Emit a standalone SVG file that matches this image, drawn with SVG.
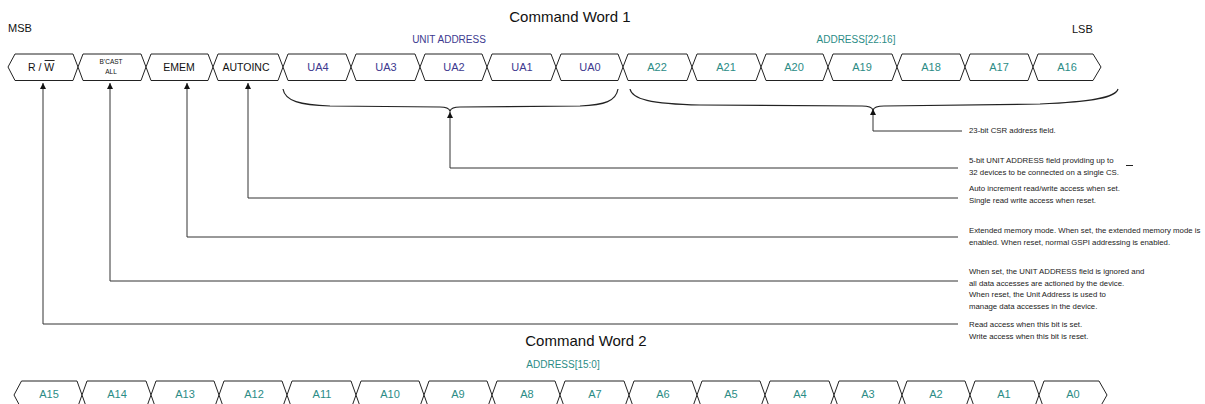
<svg xmlns="http://www.w3.org/2000/svg" width="1205" height="404" viewBox="0 0 1205 404">
<style>
text{font-family:"Liberation Sans",Arial,sans-serif;}
.hex{fill:#fff;stroke:#222;stroke-width:1;}
.t{font-size:15px;fill:#111;text-anchor:middle;}
.msb{font-size:11px;fill:#111;}
.lbl{font-size:10.5px;fill:#111;text-anchor:middle;}
.sm{font-size:6.5px;fill:#111;text-anchor:middle;}
.ua{font-size:11px;fill:#3d3a8f;text-anchor:middle;}
.ad{font-size:11px;fill:#2b8c86;text-anchor:middle;}
.uah{font-size:10px;fill:#3d3a8f;text-anchor:middle;}
.adh{font-size:10px;fill:#2b8c86;text-anchor:middle;}
.note{font-size:7.8px;fill:#222;}
.conn{fill:none;stroke:#333;stroke-width:1;}
.brace{fill:none;stroke:#222;stroke-width:1.2;}
</style>
<defs>
<marker id="arr" viewBox="0 0 10 10" refX="10" refY="5" markerWidth="9" markerHeight="6" markerUnits="userSpaceOnUse" orient="auto">
<path d="M0,0 L10,5 L0,10 z" fill="#111"/>
</marker>
</defs>

<text class="t" x="570" y="22">Command Word 1</text>
<text class="msb" x="8" y="32">MSB</text>
<text class="msb" x="1072" y="33">LSB</text>
<text class="uah" x="449" y="43">UNIT ADDRESS</text>
<text class="adh" x="856" y="43">ADDRESS[22:16]</text>

<g id="f-rw"><polygon class="hex" points="8,67 15,54 73,54 78,67 73,80.5 15,80.5"/><text class="lbl" x="41" y="71">R / W</text><line x1="44.6" y1="60.5" x2="54.6" y2="60.5" stroke="#111" stroke-width="0.9"/></g>
<g id="f-bcast"><polygon class="hex" points="78,67 83,54 141,54 146,67 141,80.5 83,80.5"/><text class="sm" x="111" y="63.5">B’CAST</text><text class="sm" x="111" y="74">ALL</text></g>
<g id="f-emem"><polygon class="hex" points="146,67 151,54 208,54 213,67 208,80.5 151,80.5"/><text class="lbl" x="179" y="71">EMEM</text></g>
<g id="f-autoinc"><polygon class="hex" points="213,67 218,54 278,54 283,67 278,80.5 218,80.5"/><text class="lbl" x="246" y="71">AUTOINC</text></g>
<g id="f-ua4"><polygon class="hex" points="283,67 288,54 346,54 351,67 346,80.5 288,80.5"/><text class="ua" x="318" y="71">UA4</text></g>
<g id="f-ua3"><polygon class="hex" points="351,67 356,54 415,54 420,67 415,80.5 356,80.5"/><text class="ua" x="386" y="71">UA3</text></g>
<g id="f-ua2"><polygon class="hex" points="420,67 425,54 482,54 487,67 482,80.5 425,80.5"/><text class="ua" x="454" y="71">UA2</text></g>
<g id="f-ua1"><polygon class="hex" points="487,67 492,54 551,54 556,67 551,80.5 492,80.5"/><text class="ua" x="522" y="71">UA1</text></g>
<g id="f-ua0"><polygon class="hex" points="556,67 561,54 618,54 623,67 618,80.5 561,80.5"/><text class="ua" x="590" y="71">UA0</text></g>
<g id="f-a22"><polygon class="hex" points="623,67 628,54 687,54 692,67 687,80.5 628,80.5"/><text class="ad" x="657" y="71">A22</text></g>
<g id="f-a21"><polygon class="hex" points="692,67 697,54 756,54 761,67 756,80.5 697,80.5"/><text class="ad" x="726" y="71">A21</text></g>
<g id="f-a20"><polygon class="hex" points="761,67 766,54 823,54 828,67 823,80.5 766,80.5"/><text class="ad" x="794" y="71">A20</text></g>
<g id="f-a19"><polygon class="hex" points="828,67 833,54 892,54 897,67 892,80.5 833,80.5"/><text class="ad" x="862" y="71">A19</text></g>
<g id="f-a18"><polygon class="hex" points="897,67 902,54 960,54 965,67 960,80.5 902,80.5"/><text class="ad" x="931" y="71">A18</text></g>
<g id="f-a17"><polygon class="hex" points="965,67 970,54 1028,54 1033,67 1028,80.5 970,80.5"/><text class="ad" x="999" y="71">A17</text></g>
<g id="f-a16"><polygon class="hex" points="1033,67 1038,54 1093,54 1101,67 1093,80.5 1038,80.5"/><text class="ad" x="1067" y="71">A16</text></g>

<g id="braces">
<path class="brace" d="M283,89 C285,101 300,105 330,106 L440,107 C446,107 449,108 450,111 C451,108 454,107 460,107 L580,106 C605,105 616,101 618,89"/>
<path class="brace" d="M630,89 C632,99 650,104 700,105 L862,106 C869,106 872,107 873,110 C874,107 877,106 884,106 L1040,104 C1095,102 1116,97 1118,89"/>
</g>

<g id="connectors">
<path class="conn" d="M962,131 H873 V109" marker-end="url(#arr)"/>
<path class="conn" d="M958,168 H450 V112" marker-end="url(#arr)"/>
<path class="conn" d="M958,198 H248 V83" marker-end="url(#arr)"/>
<path class="conn" d="M958,237 H187 V83" marker-end="url(#arr)"/>
<path class="conn" d="M958,281 H110 V83" marker-end="url(#arr)"/>
<path class="conn" d="M958,324 H43 V83" marker-end="url(#arr)"/>
</g>

<g id="notes">
<text class="note" x="969" y="133">23-bit CSR address field.</text>
<text class="note" x="969" y="163">5-bit UNIT ADDRESS field providing up to</text>
<text class="note" x="969" y="174.5">32 devices to be connected on a single CS.</text>
<line x1="1126" y1="165.5" x2="1133" y2="165.5" stroke="#222" stroke-width="1"/>
<text class="note" x="969" y="191">Auto increment read/write access when set.</text>
<text class="note" x="969" y="202.5">Single read write access when reset.</text>
<text class="note" x="969" y="233">Extended memory mode. When set, the extended memory mode is</text>
<text class="note" x="969" y="244.5">enabled. When reset, normal GSPI addressing is enabled.</text>
<text class="note" x="969" y="274">When set, the UNIT ADDRESS field is ignored and</text>
<text class="note" x="969" y="285.5">all data accesses are actioned by the device.</text>
<text class="note" x="969" y="297">When reset, the Unit Address is used to</text>
<text class="note" x="969" y="308.5">manage data accesses in the device.</text>
<text class="note" x="969" y="327">Read access when this bit is set.</text>
<text class="note" x="969" y="338.5">Write access when this bit is reset.</text>
</g>

<text class="t" x="586" y="346">Command Word 2</text>
<text class="adh" x="563" y="368">ADDRESS[15:0]</text>

<g id="f-a15"><polygon class="hex" points="14,395 21.5,381 77,381 82,395 77,409 21.5,409"/><text class="ad" x="49" y="398">A15</text></g>
<g id="f-a14"><polygon class="hex" points="82,395 87,381 146,381 151,395 146,409 87,409"/><text class="ad" x="117" y="398">A14</text></g>
<g id="f-a13"><polygon class="hex" points="151,395 156,381 214,381 219,395 214,409 156,409"/><text class="ad" x="185" y="398">A13</text></g>
<g id="f-a12"><polygon class="hex" points="219,395 224,381 282,381 287,395 282,409 224,409"/><text class="ad" x="254" y="398">A12</text></g>
<g id="f-a11"><polygon class="hex" points="287,395 292,381 351,381 356,395 351,409 292,409"/><text class="ad" x="322" y="398">A11</text></g>
<g id="f-a10"><polygon class="hex" points="356,395 361,381 419,381 424,395 419,409 361,409"/><text class="ad" x="390" y="398">A10</text></g>
<g id="f-a9"><polygon class="hex" points="424,395 429,381 487,381 492,395 487,409 429,409"/><text class="ad" x="458" y="398">A9</text></g>
<g id="f-a8"><polygon class="hex" points="492,395 497,381 555,381 560,395 555,409 497,409"/><text class="ad" x="527" y="398">A8</text></g>
<g id="f-a7"><polygon class="hex" points="560,395 565,381 624,381 629,395 624,409 565,409"/><text class="ad" x="595" y="398">A7</text></g>
<g id="f-a6"><polygon class="hex" points="629,395 634,381 692,381 697,395 692,409 634,409"/><text class="ad" x="663" y="398">A6</text></g>
<g id="f-a5"><polygon class="hex" points="697,395 702,381 760,381 765,395 760,409 702,409"/><text class="ad" x="731" y="398">A5</text></g>
<g id="f-a4"><polygon class="hex" points="765,395 770,381 829,381 834,395 829,409 770,409"/><text class="ad" x="800" y="398">A4</text></g>
<g id="f-a3"><polygon class="hex" points="834,395 839,381 897,381 902,395 897,409 839,409"/><text class="ad" x="868" y="398">A3</text></g>
<g id="f-a2"><polygon class="hex" points="902,395 907,381 965,381 970,395 965,409 907,409"/><text class="ad" x="936" y="398">A2</text></g>
<g id="f-a1"><polygon class="hex" points="970,395 975,381 1034,381 1039,395 1034,409 975,409"/><text class="ad" x="1004" y="398">A1</text></g>
<g id="f-a0"><polygon class="hex" points="1039,395 1044,381 1099,381 1107,395 1099,409 1044,409"/><text class="ad" x="1073" y="398">A0</text></g>
</svg>
